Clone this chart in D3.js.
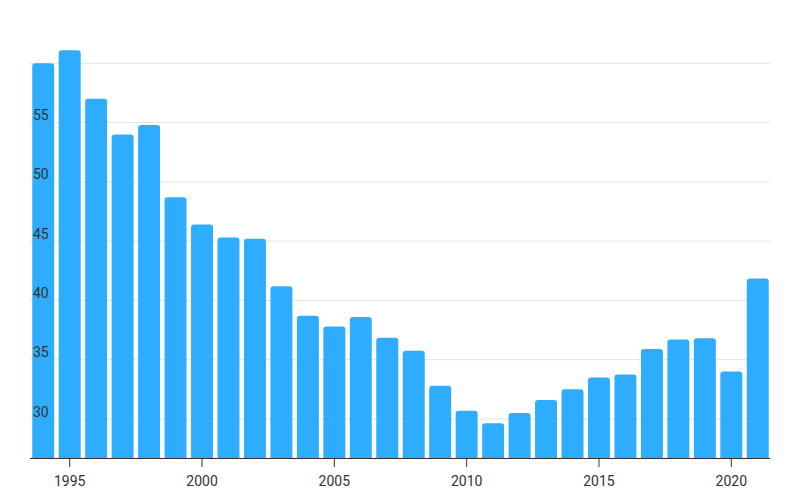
<!DOCTYPE html>
<html>
<head>
<meta charset="utf-8">
<script src="https://cdn.jsdelivr.net/npm/d3@7"></script>
<style>
  html, body { margin: 0; padding: 0; background: #fff; }
  svg { display: block; font-family: Roboto, sans-serif; }
</style>
</head>
<body>
<svg id="chart" width="800" height="500"></svg>
<script>
const years = [1994,1995,1996,1997,1998,1999,2000,2001,2002,2003,2004,2005,2006,2007,
               2008,2009,2010,2011,2012,2013,2014,2015,2016,2017,2018,2019,2020,2021];
const values = [60.0,61.1,57.0,54.0,54.8,48.7,46.4,45.3,45.2,41.2,38.7,37.8,38.6,36.85,
                35.75,32.8,30.7,29.65,30.5,31.6,32.5,33.5,33.75,35.9,36.7,36.8,34.0,41.85];
const yTicks = [30,35,40,45,50,55];
const gridTicks = [30,35,40,45,50,55,60];
const xTickYears = [1995,2000,2005,2010,2015,2020];

const svg = d3.select("#chart");
const left = 30, right = 771, baseY = 458;

const x = d3.scaleBand().domain(years).range([left, right])
  .paddingInner(0.17).paddingOuter(0.085);
const y = d3.scaleLinear().domain([30, 60]).range([419, 63.3]);
const yMin = y.invert(baseY);

// gridlines
svg.append("g").selectAll("line").data(gridTicks).join("line")
  .attr("x1", left).attr("x2", 770)
  .attr("y1", d => y(d)).attr("y2", d => y(d))
  .attr("stroke", "#e3e3e3").attr("stroke-width", 1);

// bars with rounded top corners
const r = 3;
svg.append("g").selectAll("path").data(years).join("path")
  .attr("fill", "#2eadfe")
  .attr("d", (d, i) => {
    const x0 = x(d), w = x.bandwidth(), y0 = y(values[i]), y1 = baseY;
    return `M${x0},${y1}V${y0 + r}Q${x0},${y0} ${x0 + r},${y0}H${x0 + w - r}Q${x0 + w},${y0} ${x0 + w},${y0 + r}V${y1}Z`;
  });

// y labels (drawn over bars)
svg.append("g").selectAll("text").data(yTicks).join("text")
  .attr("x", 33).attr("y", d => y(d) - 2.5)
  .attr("font-size", 14).attr("fill", "#333")
  .text(d => d);

// x axis
const xAxis = d3.axisBottom(x).tickValues(xTickYears).tickSize(9).tickSizeOuter(0).tickPadding(9);
const gx = svg.append("g").attr("transform", `translate(0,${baseY})`).call(xAxis);
gx.select(".domain").attr("stroke", "#333").attr("d", `M${left},0.5H770`);
gx.selectAll(".tick line").attr("stroke", "#333");
gx.selectAll(".tick text").attr("font-size", 14).attr("fill", "#333").attr("font-family", "Roboto, sans-serif");
</script>
</body>
</html>
